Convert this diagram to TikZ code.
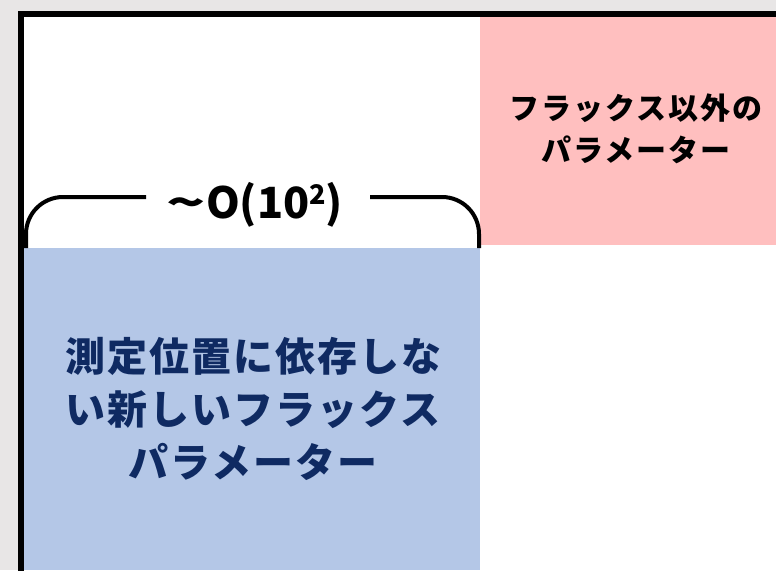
\documentclass[tikz,border=0pt]{standalone}
\usepackage{fontspec}
\setmainfont{Noto Sans CJK JP}
\definecolor{bggray}{HTML}{E8E6E6}
\definecolor{pinkbox}{HTML}{FFBFBF}
\definecolor{bluebox}{HTML}{B4C7E7}
\definecolor{navytext}{HTML}{0F2A62}
\tikzset{
  boxtext/.style={align=center, inner sep=0pt},
  bracket/.style={line width=4pt, rounded corners=37pt},
}
\begin{document}
\begin{tikzpicture}[x=1pt, y=-1pt]
\useasboundingbox (0,0) rectangle (776,570);
\fill[bggray] (0,0) rectangle (776,570);
\fill[white] (20.5,14) rectangle (776,570);
% coloured regions
\fill[pinkbox] (480,17) rectangle (776,245);
\fill[bluebox] (23,248) rectangle (480,570);
% frame
\draw[line width=6pt] (20.5,600) -- (20.5,14) -- (800,14);
% bracket
\coordinate (bl) at (26,248);
\coordinate (blc) at (26,197);
\coordinate (ble) at (146,197);
\coordinate (brs) at (370,197);
\coordinate (brc) at (479,197);
\coordinate (br) at (479,248);
\draw[bracket] (bl) -- (blc) -- (ble);
\draw[bracket] (brs) -- (brc) -- (br);
\node[anchor=base, inner sep=0pt, font=\fontsize{43}{43}\selectfont\bfseries] (order) at (255,218)
  {\scalebox{1.5}[1]{\textasciitilde}O(10\raisebox{14pt}{\fontsize{27}{27}\selectfont 2})};
% texts
\node[boxtext, text=navytext, font=\fontsize{40}{53}\selectfont\bfseries\addfontfeatures{LetterSpace=5}] (blue) at (253,409)
  {測定位置に依存しな\\い新しいフラックス\\パラメーター};
\node[boxtext, text=black, font=\fontsize{30}{42}\selectfont\bfseries\addfontfeatures{LetterSpace=7}] (pink) at (636,129)
  {フラックス以外の\\パラメーター};
\end{tikzpicture}
\end{document}
